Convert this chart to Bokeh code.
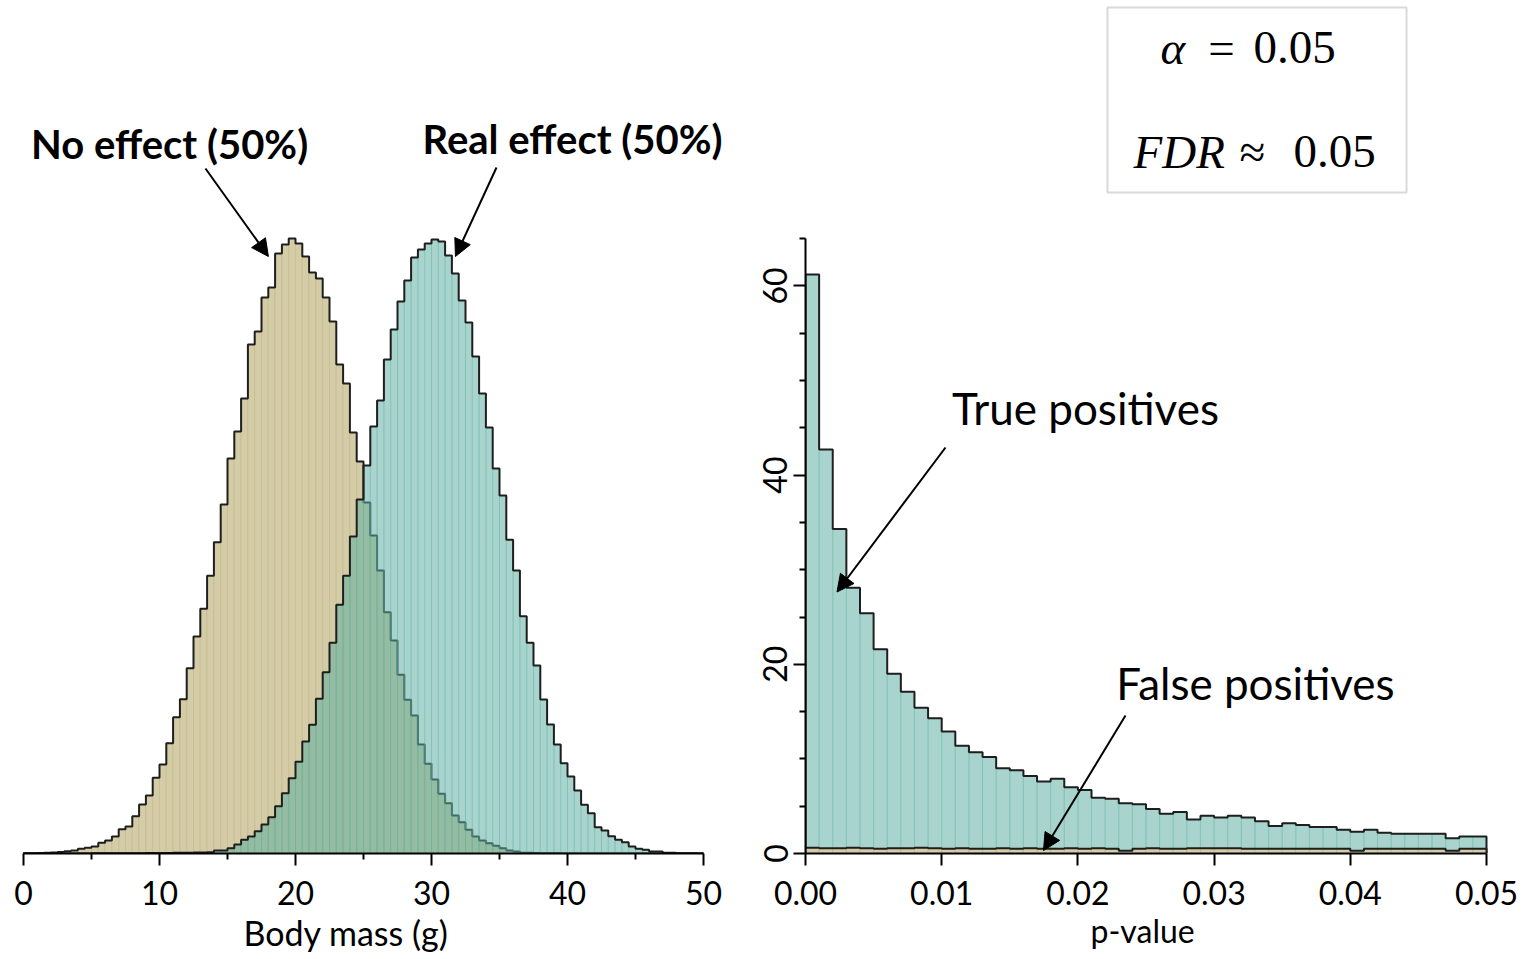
import numpy as np
from bokeh.plotting import figure
from bokeh.layouts import row
from bokeh.models import (FixedTicker, PrintfTickFormatter, Label, Arrow, NormalHead,
                          BoxAnnotation, Range1d, Title)
from bokeh.embed import file_html
from bokeh.resources import INLINE

# ---------------- data ----------------
# Left panel: body-mass histograms (bins of 0.5 g from 0 to 50 g), relative frequency (arbitrary units)
mass_bin_start = 0.0
mass_bin_width = 0.5
no_effect_freq = [
    0.2, 0.3, 0.5, 0.8, 1.0, 1.5, 2.2, 3, 4.7, 5.7,
    7, 10.7, 13, 17, 24.3, 27, 37.3, 49, 58, 75.7,
    89, 110.3, 136.3, 154.3, 185.3, 217, 244.7, 277.7, 311.3, 349,
    395, 422, 455, 509, 522, 556, 566, 600, 609, 615,
    610, 597, 581, 575, 556, 532, 489, 470, 421, 392,
    351, 318, 283, 241.3, 213, 178.7, 153.7, 138, 109, 89.7,
    74, 59.7, 50.3, 38, 31.3, 23.7, 17, 13, 10.3, 7.7,
    5.3, 3, 2, 0.7, 0.7, 0.5, 0.3, 0.2, 0.2, 0.1,
    0.1, 0, 0, 0, 0, 0, 0, 0, 0, 0,
    0, 0, 0, 0, 0, 0, 0, 0, 0, 0,
]
real_effect_freq = [
    0, 0, 0, 0, 0, 0, 0, 0, 0, 0,
    0.2, 0.2, 0.2, 0.2, 0.3, 0.3, 0.3, 0.3, 0.5, 0.5,
    0.5, 0.5, 0.7, 0.7, 0.7, 1.0, 1.0, 1.3, 3, 3,
    5.3, 9, 13.7, 17, 22.3, 29, 36.3, 47.3, 60.3, 75.3,
    91.7, 112, 128.7, 154.7, 181.3, 210.7, 248.7, 277.7, 317, 354,
    388, 427, 453, 494, 524, 552, 573, 596, 604, 610,
    614, 612, 598, 580, 553, 531, 497, 460, 426, 385,
    358, 313.7, 283, 237.3, 210.7, 188, 154, 129, 109, 90.3,
    77, 63, 48.7, 40.3, 26.3, 23, 17.3, 13.7, 11.3, 7,
    4.7, 3.7, 2, 2, 0.7, 0.7, 0.3, 0.3, 0.2, 0,
]
mass_ticks = [0, 10, 20, 30, 40, 50]
mass_minor_ticks = [5, 15, 25, 35, 45]

# Right panel: p-value histogram (bins of 0.001 from 0 to 0.05)
p_bin_start = 0.0
p_bin_width = 0.001
true_pos_freq = [
    61.2, 42.7, 34.3, 28.1, 25.4, 21.6, 19.0, 17.1, 15.4, 14.3,
    12.9, 11.4, 10.7, 10.2, 9.0, 8.8, 8.2, 7.6, 7.9, 7.0,
    6.7, 5.9, 5.8, 5.3, 5.2, 4.7, 4.2, 4.4, 3.6, 4.0,
    3.8, 4.0, 3.8, 3.4, 2.9, 3.2, 3.0, 2.8, 2.8, 2.5,
    2.3, 2.5, 2.2, 2.1, 2.1, 2.1, 2.1, 1.6, 1.8, 1.8,
]
false_pos_freq = [
    0.6, 0.55, 0.55, 0.6, 0.55, 0.5, 0.55, 0.55, 0.6, 0.55,
    0.5, 0.55, 0.5, 0.5, 0.55, 0.5, 0.55, 0.5, 0.5, 0.55,
    0.5, 0.55, 0.5, 0.3, 0.5, 0.55, 0.5, 0.5, 0.55, 0.55,
    0.55, 0.55, 0.5, 0.5, 0.5, 0.5, 0.5, 0.5, 0.5, 0.5,
    0.3, 0.5, 0.5, 0.5, 0.5, 0.5, 0.5, 0.3, 0.5, 0.5,
]
p_ticks = [0.0, 0.01, 0.02, 0.03, 0.04, 0.05]
freq_ticks = [0, 20, 40, 60]
freq_minor_ticks = [5, 10, 15, 25, 30, 35, 45, 50, 55, 65]

# ---------------- style ----------------
FONT = "Lato"
TAN = "#d4cca6"
TAN_LINE = "#bfb483"
TEAL = "#5baea0"
TEAL_ALPHA = 0.53
OUTLINE = "#1e1e1e"


def edges_of(start, width, n):
    return start + width * np.arange(n + 1)


def draw_hist(p, edges, vals, fill, fill_alpha, line_color, line_alpha):
    p.quad(left=edges[:-1], right=edges[1:], bottom=0, top=vals,
           fill_color=fill, fill_alpha=fill_alpha,
           line_color=line_color, line_alpha=line_alpha, line_width=1)


def draw_outline(p, edges, vals):
    xs = np.concatenate([[edges[0]], edges])
    ys = np.concatenate([[0], np.asarray(vals, dtype=float), [0]])
    p.step(xs, ys, mode="after", line_color=OUTLINE, line_width=2)


def style_axis(ax):
    ax.axis_line_width = 2
    ax.axis_line_color = "black"
    ax.major_tick_line_width = 2
    ax.minor_tick_line_width = 2
    ax.major_tick_line_color = "black"
    ax.minor_tick_line_color = "black"
    ax.major_tick_out = 12
    ax.major_tick_in = 0
    ax.minor_tick_out = 6
    ax.minor_tick_in = 0
    ax.major_label_text_font = FONT
    ax.major_label_text_font_size = "32px"
    ax.major_label_text_color = "black"


def axis_title(p, text, offset, size, standoff):
    p.add_layout(Title(text=text, align="left", offset=offset, standoff=standoff,
                       text_font=FONT, text_font_size=size, text_font_style="normal",
                       text_color="black"), "below")


# ---------------- left figure ----------------
PX_PER_G = 13.6
left = figure(width=740, height=959, output_backend="svg", toolbar_location=None, tools="",
              x_range=Range1d(-23 / PX_PER_G, 717 / PX_PER_G), y_range=Range1d(0, 853),
              y_axis_location=None, min_border_left=0, min_border_right=0,
              min_border_top=0, min_border_bottom=106)
left.grid.visible = False
left.outline_line_color = None

m_edges = edges_of(mass_bin_start, mass_bin_width, len(no_effect_freq))
draw_hist(left, m_edges, no_effect_freq, TAN, 1.0, TAN_LINE, 0.5)
draw_outline(left, m_edges, no_effect_freq)
draw_hist(left, m_edges, real_effect_freq, TEAL, TEAL_ALPHA, TEAL, 0.3)
draw_outline(left, m_edges, real_effect_freq)

lax = left.xaxis[0]
style_axis(lax)
lax.ticker = FixedTicker(ticks=mass_ticks, minor_ticks=mass_minor_ticks)
lax.bounds = (0, 50)
lax.major_label_standoff = 15
axis_title(left, "Body mass (g)", 243, "34px", 5)

left.add_layout(Label(x=10.74, y=710, text="No effect (50%)", text_font=FONT,
                      text_font_style="bold", text_font_size="40px", text_color="black",
                      text_align="center", text_baseline="middle"))
left.add_layout(Label(x=40.37, y=715, text="Real effect (50%)", text_font=FONT,
                      text_font_style="bold", text_font_size="40px", text_color="black",
                      text_align="center", text_baseline="middle"))
left.add_layout(Arrow(end=NormalHead(size=17, fill_color="black", line_color="black"),
                      x_start=13.38, y_start=685, x_end=18.01, y_end=597,
                      line_color="black", line_width=2))
left.add_layout(Arrow(end=NormalHead(size=17, fill_color="black", line_color="black"),
                      x_start=34.78, y_start=686, x_end=31.76, y_end=597,
                      line_color="black", line_width=2))

# ---------------- right figure ----------------
PX_PER_P = 681 / 0.05
PX_PER_F = 9.46
right = figure(width=782, height=959, output_backend="svg", toolbar_location=None, tools="",
               x_range=Range1d(0, 717 / PX_PER_P), y_range=Range1d(0, 853 / PX_PER_F),
               min_border_left=65, min_border_right=0, min_border_top=0, min_border_bottom=106)
right.grid.visible = False
right.outline_line_color = None

p_edges = edges_of(p_bin_start, p_bin_width, len(true_pos_freq))
draw_hist(right, p_edges, true_pos_freq, TEAL, TEAL_ALPHA, TEAL, 0.3)
draw_outline(right, p_edges, true_pos_freq)
draw_hist(right, p_edges, false_pos_freq, TAN, 1.0, TAN_LINE, 0.5)
draw_outline(right, p_edges, false_pos_freq)

rx = right.xaxis[0]
style_axis(rx)
rx.ticker = FixedTicker(ticks=p_ticks, minor_ticks=[])
rx.formatter = PrintfTickFormatter(format="%.2f")
rx.bounds = (0, 0.05)
rx.major_label_standoff = 15
axis_title(right, "p-value", 1090 - 805, "32px", 2)

ry = right.yaxis[0]
style_axis(ry)
ry.ticker = FixedTicker(ticks=freq_ticks, minor_ticks=freq_minor_ticks)
ry.bounds = (0, 65)
ry.major_label_orientation = "vertical"
ry.major_label_standoff = 6


def px2p(px):
    return (px - 805) / PX_PER_P


def py2f(py):
    return (853 - py) / PX_PER_F


right.add_layout(Label(x=px2p(1085), y=py2f(407), text="True positives", text_font=FONT,
                       text_font_size="44px", text_color="black",
                       text_align="center", text_baseline="middle"))
right.add_layout(Label(x=px2p(1255), y=py2f(682), text="False positives", text_font=FONT,
                       text_font_size="44px", text_color="black",
                       text_align="center", text_baseline="middle"))
right.add_layout(Arrow(end=NormalHead(size=17, fill_color="black", line_color="black"),
                       x_start=px2p(945), y_start=py2f(447), x_end=px2p(836.5), y_end=py2f(591.5),
                       line_color="black", line_width=2))
right.add_layout(Arrow(end=NormalHead(size=17, fill_color="black", line_color="black"),
                       x_start=px2p(1125), y_start=py2f(715), x_end=px2p(1043), y_end=py2f(850),
                       line_color="black", line_width=2))

right.add_layout(BoxAnnotation(left=px2p(1107), right=px2p(1406), top=py2f(7), bottom=py2f(192),
                               fill_color=None, fill_alpha=0, line_color="#808080", line_width=2))

SERIF = "Liberation Serif"
box_texts = [
    ("\u03b1", 1160, 47, "italic", "left"),
    ("=", 1221, 47, "normal", "center"),
    ("0.05", 1253, 47, "normal", "left"),
    ("FDR", 1133, 151, "italic", "left"),
    ("\u2248", 1252, 151, "normal", "center"),
    ("0.05", 1293, 151, "normal", "left"),
]
for txt, px, py, style, align in box_texts:
    right.add_layout(Label(x=px2p(px), y=py2f(py), text=txt, text_font=SERIF,
                           text_font_style=style, text_font_size="47px", text_color="black",
                           text_align=align, text_baseline="alphabetic"))

layout = row(left, right)
open("out.html", "w").write(file_html(layout, INLINE))
